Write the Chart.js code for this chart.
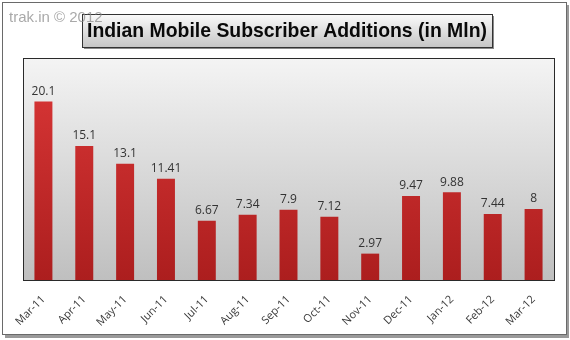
<!DOCTYPE html>
<html>
<head>
<meta charset="utf-8">
<script src="https://cdn.jsdelivr.net/npm/chart.js@4"></script>
<style>
  html, body { margin: 0; padding: 0; background: #fff; }
  canvas { display: block; }
</style>
</head>
<body>
<canvas id="chart" width="570" height="340"></canvas>
<script>
const months = ['Mar-11', 'Apr-11', 'May-11', 'Jun-11', 'Jul-11', 'Aug-11', 'Sep-11',
  'Oct-11', 'Nov-11', 'Dec-11', 'Jan-12', 'Feb-12', 'Mar-12'];
const additions = [20.1, 15.1, 13.1, 11.41, 6.67, 7.34, 7.9, 7.12, 2.97, 9.47, 9.88, 7.44, 8];
const valueLabels = ['20.1', '15.1', '13.1', '11.41', '6.67', '7.34', '7.9', '7.12', '2.97', '9.47', '9.88', '7.44', '8'];
const titleText = 'Indian Mobile Subscriber Additions (in Mln)';
const watermark = 'trak.in \u00a9 2012';

const ctx = document.getElementById('chart').getContext('2d');

// frame, plot background, labels and title box
const decor = {
  id: 'decor',
  beforeDraw(chart) {
    const c = chart.ctx, a = chart.chartArea;
    c.save();
    c.fillStyle = '#fff';
    c.fillRect(0, 0, chart.width, chart.height);
    // outer frame shadow + border
    c.fillStyle = '#9a9a9a';
    c.fillRect(5, 335, 564, 3);
    c.fillRect(566, 5, 3, 333);
    c.strokeStyle = '#6a6a6a';
    c.lineWidth = 1;
    c.strokeRect(2.5, 2.5, 564, 332);
    // plot area gradient
    const g = c.createLinearGradient(0, a.top, 0, a.bottom);
    g.addColorStop(0, '#f4f4f4');
    g.addColorStop(1, '#bfbfbf');
    c.fillStyle = g;
    c.fillRect(a.left, a.top, a.right - a.left, a.bottom - a.top);
    c.restore();
  },
  afterDatasetsDraw(chart) {
    const c = chart.ctx, a = chart.chartArea;
    c.save();
    c.strokeStyle = '#2a2a2a';
    c.lineWidth = 1;
    c.strokeRect(Math.round(a.left) + 0.5, Math.round(a.top) + 0.5,
      Math.round(a.right - a.left), Math.round(a.bottom - a.top));
    c.fillStyle = '#333';
    c.font = '12px "Open Sans", "DejaVu Sans", sans-serif';
    c.textAlign = 'center';
    c.textBaseline = 'bottom';
    chart.getDatasetMeta(0).data.forEach((bar, i) => {
      c.fillText(valueLabels[i], bar.x, bar.y - 4);
    });
    c.restore();
  },
  afterDraw(chart) {
    const c = chart.ctx;
    c.save();
    // title box with shadow
    const bx = 82, by = 14, bw = 410, bh = 33;
    c.fillStyle = '#8a8a8a';
    c.fillRect(bx + 2, by + 2, bw, bh);
    const tg = c.createLinearGradient(0, by, 0, by + bh);
    tg.addColorStop(0, '#fbfbfb');
    tg.addColorStop(1, '#c6c6c6');
    c.fillStyle = tg;
    c.fillRect(bx, by, bw, bh);
    c.strokeStyle = '#333';
    c.lineWidth = 1;
    c.strokeRect(bx + 0.5, by + 0.5, bw, bh);
    c.font = 'bold 21px "Liberation Sans", "DejaVu Sans", sans-serif';
    c.fillStyle = '#0a0a0a';
    c.textBaseline = 'middle';
    const w = c.measureText(titleText).width;
    const target = 400;
    c.translate(bx + (bw - target) / 2, by + bh / 2 + 1);
    c.scale(target / w, 1);
    c.textAlign = 'left';
    c.fillText(titleText, 0, 0);
    c.restore();
    // watermark
    c.save();
    c.globalAlpha = 0.75;
    c.fillStyle = '#8c8c8c';
    c.font = '15px "Liberation Sans", "DejaVu Sans", sans-serif';
    c.textBaseline = 'alphabetic';
    c.fillText(watermark, 9, 22);
    c.restore();
  }
};

new Chart(ctx, {
  type: 'bar',
  data: {
    labels: months,
    datasets: [{
      data: additions,
      backgroundColor: (context) => {
        const a = context.chart.chartArea;
        if (!a) return '#c82a2a';
        const g = context.chart.ctx.createLinearGradient(0, a.top, 0, a.bottom);
        g.addColorStop(0, '#dc3838');
        g.addColorStop(1, '#ac1e1e');
        return g;
      },
      borderWidth: 0,
      barPercentage: 0.44,
      categoryPercentage: 1
    }]
  },
  options: {
    responsive: false,
    animation: false,
    devicePixelRatio: 1,
    layout: { padding: { left: 23, right: 16, top: 58, bottom: 0 } },
    plugins: {
      legend: { display: false },
      tooltip: { enabled: false }
    },
    scales: {
      y: { display: false, min: 0, max: 25 },
      x: {
        grid: { display: false },
        border: { display: false },
        ticks: {
          minRotation: 45,
          maxRotation: 45,
          color: '#3a3a3a',
          padding: 5,
          font: { size: 11, family: '"Open Sans", "DejaVu Sans", sans-serif' }
        },
        afterFit(scale) { scale.height = 60; }
      }
    }
  },
  plugins: [decor]
});
</script>
</body>
</html>
